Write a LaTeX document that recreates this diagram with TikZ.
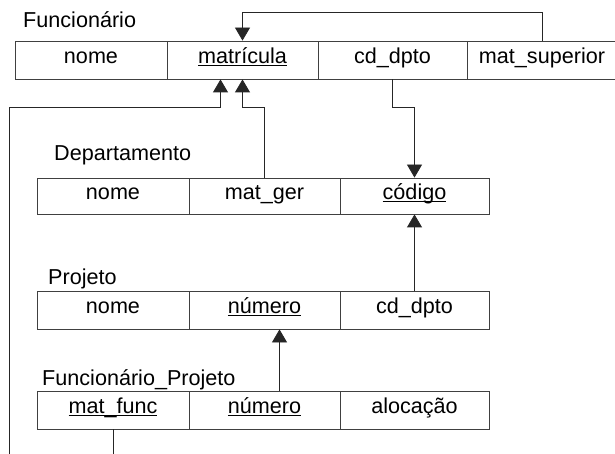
\documentclass[tikz,border=0pt]{standalone}
\usepackage{fontspec}
\setmainfont{Liberation Sans}
\usetikzlibrary{arrows.meta,calc}
\newcommand{\ulk}[1]{\underline{\raisebox{0pt}[\height][0pt]{#1}}}
\begin{document}
\begin{tikzpicture}[x=1pt,y=-1pt,
  font=\fontsize{21.6}{26}\selectfont,
  cell/.style={draw=black!75,line width=0.8pt,rectangle,inner sep=0pt,
    minimum height=38pt,text height=0.72em,text depth=0em},
  tlabel/.style={anchor=base west,inner sep=0pt},
  conn/.style={draw=black!85,line width=0.8pt},
  arr/.style={conn,-{Triangle[width=15pt,length=13pt]}}]
\useasboundingbox (0,0) rectangle (615,454);
% Funcionario
\node[tlabel] (lf) at (23,28) {Funcionário};
\node[cell,minimum width=152pt] (fn) at (91,60) {nome};
\node[cell,minimum width=151pt] (fm) at (242.5,60) {\ulk{matrícula}};
\node[cell,minimum width=149pt] (fc) at (392.5,60) {cd\_dpto};
\node[cell,minimum width=150pt] (fs) at (542,60) {mat\_superior};
% Departamento
\node[tlabel] (ld) at (54,161) {Departamento};
\node[cell,minimum width=152pt,minimum height=36pt] (dn) at (113,196) {nome};
\node[cell,minimum width=151pt,minimum height=36pt] (dm) at (264.5,196) {mat\_ger};
\node[cell,minimum width=149pt,minimum height=36pt] (dc) at (414.5,196) {\ulk{código}};
% Projeto
\node[tlabel] (lp) at (48,284) {Projeto};
\node[cell,minimum width=152pt] (pn) at (113,310) {nome};
\node[cell,minimum width=151pt] (pm) at (264.5,310) {\ulk{número}};
\node[cell,minimum width=149pt] (pc) at (414.5,310) {cd\_dpto};
% Funcionario_Projeto
\node[tlabel] (lq) at (42,385) {Funcionário\_Projeto};
\node[cell,minimum width=152pt] (qm) at (113,410) {\ulk{mat\_func}};
\node[cell,minimum width=151pt] (qn) at (264.5,410) {\ulk{número}};
\node[cell,minimum width=149pt] (qa) at (414.5,410) {alocação};
% connectors
\coordinate (lb) at (9,454);
\coordinate (mb) at (113,454);
\draw[arr] (fs.north) -- ++(0,-28) -| (fm.north);
\draw[arr] (dm.north) |- ($(fm.south)+(0,28)$) -- (fm.south);
\draw[arr] (lb) |- ($(fm.south)+(-22,28)$) -- ($(fm.south)+(-22,0)$);
\draw[arr] (fc.south) -- ++(0,28) -| (dc.north);
\draw[arr] (pc.north) -- (dc.south);
\draw[arr] ($(qn.north)+(15,0)$) -- ($(pm.south)+(15,0)$);
\draw[conn] (qm.south) -- (qm.south |- mb);
\end{tikzpicture}
\end{document}
